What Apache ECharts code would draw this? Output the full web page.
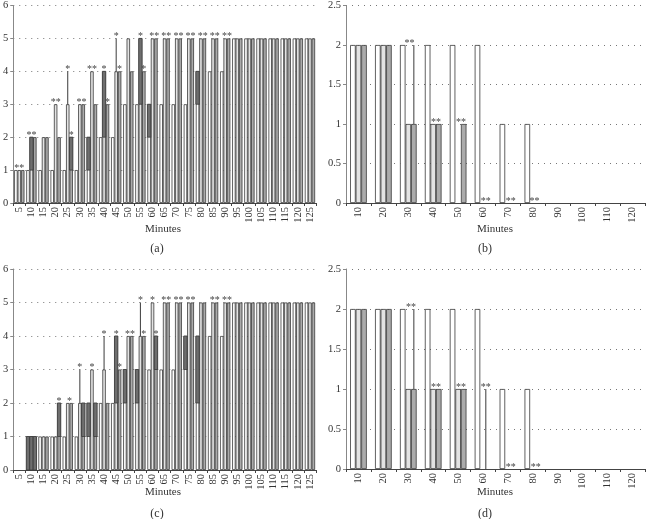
<!DOCTYPE html>
<html><head><meta charset="utf-8">
<script src="https://cdn.jsdelivr.net/npm/echarts@6/dist/echarts.min.js"></script>
<style>html,body{margin:0;padding:0;background:#fff}#c{width:646px;height:519px}</style>
</head><body><div id="c"></div>
<script>
// ---- categories ----
const catsAC = ['5','10','15','20','25','30','35','40','45','50','55','60','65','70','75','80','85','90','95','100','105','110','115','120','125'];
const catsBD = ['10','20','30','40','50','60','70','80','90','100','110','120'];
// ---- panel (a) ----
const aW = [1,1,1,1,1,1,2,2,2,3,3,3,3,3,3,4,4,4,5,5,5,5,5,5,5];
const aL = [1,2,2,3,3,3,4,4,4,5,5,5,5,5,5,5,5,5,5,5,5,5,5,5,5];
const aG = [1,2,2,2,2,3,3,3,4,4,4,5,5,5,5,5,5,5,5,5,5,5,5,5,5];
const aDark = [[1,1,1,2],[4,2,1,2],[6,0,1,2],[7,1,2,4],[10,1,3,5],[11,0,2,3],[15,0,3,4]];
const aWhisk = [[4,1,3,4],[8,1,4,5]];
const aStars = [[0,1,1,'**'],[1,1,2,'**'],[3,1,3,'**'],[4,1,4,'*'],[4,2,2,'*'],[5,1.5,3,'**'],[6,1,4,'**'],[7,1,4,'*'],[7,2,3,'*'],[8,1,5,'*'],[8,2,4,'*'],[10,1,5,'*'],[10,2,4,'*'],[11,1.5,5,'**'],[12,1.5,5,'**'],[13,1.5,5,'**'],[14,1.5,5,'**'],[15,1.5,5,'**'],[16,1.5,5,'**'],[17,1.5,5,'**']];
// ---- panel (b) ----
const bW = [2,2,2,2,2,2,1,1,0,0,0,0];
const bL = [2,2,1,1,0,0,0,0,0,0,0,0];
const bG = [2,2,1,1,1,0,0,0,0,0,0,0];
const bDark = [];
const bWhisk = [[2,2,1,2]];
const bStars = [[2,1.2,2,'**'],[3,1.5,1,'**'],[4,1.5,1,'**'],[5,1.5,0,'**'],[6,1.5,0,'**'],[7,1.3,0,'**']];
// ---- panel (c) ----
const cW = [0,1,1,1,1,1,2,2,2,3,3,3,3,3,4,4,4,4,5,5,5,5,5,5,5];
const cL = [0,1,1,1,2,2,3,3,4,4,4,5,5,5,5,5,5,5,5,5,5,5,5,5,5];
const cG = [0,1,1,2,2,2,2,2,3,4,4,4,5,5,5,5,5,5,5,5,5,5,5,5,5];
const cDark = [[1,0,0,1],[1,1,0,1],[1,2,0,1],[3,2,1,2],[5,2,1,2],[6,0,1,2],[6,2,1,2],[8,1,2,4],[9,0,2,3],[10,0,2,3],[11,2,3,4],[14,0,3,4],[15,0,2,4]];
const cWhisk = [[5,1,2,3],[7,1,3,4],[10,1,4,5]];
const cStars = [[3,2,2,'*'],[4,1.5,2,'*'],[5,1,3,'*'],[6,1,3,'*'],[7,1,4,'*'],[8,1,4,'*'],[8,2,3,'*'],[9,1.5,4,'**'],[10,1,5,'*'],[10,2,4,'*'],[11,1,5,'*'],[11,2,4,'*'],[12,1.5,5,'**'],[13,1.5,5,'**'],[14,1.5,5,'**'],[16,1.5,5,'**'],[17,1.5,5,'**']];
// ---- panel (d) ----
const dW = [2,2,2,2,2,2,1,1,0,0,0,0];
const dL = [2,2,1,1,1,0,0,0,0,0,0,0];
const dG = [2,2,1,1,1,0,0,0,0,0,0,0];
const dDark = [];
const dWhisk = [[2,2,1,2],[5,1.5,0,1]];
const dStars = [[2,1.5,2,'**'],[3,1.5,1,'**'],[4,1.5,1,'**'],[5,1.5,1,'**'],[6,1.5,0,'**'],[7,1.5,0,'**']];

const FONT = '"Liberation Serif", "DejaVu Serif", serif';
const chart = echarts.init(document.getElementById('c'), null, {renderer:'canvas'});

const panels = [
  {cats:catsAC, W:aW, L:aL, G:aG, dark:aDark, whisk:aWhisk, stars:aStars, max:6, interval:1, gap:0.15,
   grid:{left:11, top:5, width:305, height:198}},
  {cats:catsBD, W:bW, L:bL, G:bG, dark:bDark, whisk:bWhisk, stars:bStars, max:2.5, interval:0.5, gap:0.33,
   grid:{left:346, top:5, width:299, height:198}},
  {cats:catsAC, W:cW, L:cL, G:cG, dark:cDark, whisk:cWhisk, stars:cStars, max:6, interval:1, gap:0.15,
   grid:{left:11, top:269, width:305, height:201}},
  {cats:catsBD, W:dW, L:dL, G:dG, dark:dDark, whisk:dWhisk, stars:dStars, max:2.5, interval:0.5, gap:0.33,
   grid:{left:346, top:269, width:299, height:200}}
];

const grids=[], xAxes=[], yAxes=[], series=[];
const fills = ['#ffffff','#e3e3e3','#ababab'];
panels.forEach((p,i)=>{
  grids.push(Object.assign({containLabel:false}, p.grid));
  xAxes.push({type:'category', gridIndex:i, data:p.cats,
    axisLine:{lineStyle:{color:'#444', width:1}},
    axisTick:{show:true, length:3, lineStyle:{color:'#444'}},
    axisLabel:{rotate:90, interval:0, fontFamily:FONT, fontSize:10.5, color:'#333', margin:4}});
  yAxes.push({type:'value', gridIndex:i, min:0, max:p.max, interval:p.interval,
    axisLine:{show:true, lineStyle:{color:'#888'}},
    axisTick:{show:true, length:3, lineStyle:{color:'#888'}},
    axisLabel:{fontFamily:FONT, fontSize:10.5, color:'#333', margin:5},
    splitLine:{show:true, lineStyle:{type:[1,5], color:'#777', width:1}}});
  [p.W,p.L,p.G].forEach((arr,k)=>{
    series.push({type:'bar', xAxisIndex:i, yAxisIndex:i, data:arr.map(v=>v===0?'-':v), barGap:'0%',
      barCategoryGap:(p.gap*100)+'%', silent:true, animation:false,
      itemStyle:{color:fills[k], borderColor:'#3a3a3a', borderWidth:0.8}});
  });
  const gap = p.gap;
  function geom(api, s){
    const c = api.value(0);
    const band = api.size([1,0])[0];
    const bw = band*(1-gap)/3;
    const cx = api.coord([c,0])[0];
    return {bw, x: cx + (s-1.5)*bw};
  }
  // dark segments
  series.push({type:'custom', xAxisIndex:i, yAxisIndex:i, data:p.dark, animation:false, silent:true, z:3,
    encode:{x:0, y:[2,3]},
    renderItem:(params, api)=>{
      const g = geom(api, api.value(1));
      const y0 = api.coord([api.value(0), api.value(2)])[1];
      const y1 = api.coord([api.value(0), api.value(3)])[1];
      return {type:'rect', shape:{x:g.x, y:y1, width:g.bw, height:y0-y1},
        style:{fill:'#6e6e6e', stroke:'#3a3a3a', lineWidth:0.8}};
    }});
  // whiskers
  series.push({type:'custom', xAxisIndex:i, yAxisIndex:i, data:p.whisk, animation:false, silent:true, z:4,
    encode:{x:0, y:[2,3]},
    renderItem:(params, api)=>{
      const g = geom(api, api.value(1));
      const xm = g.x + g.bw/2;
      const y0 = api.coord([api.value(0), api.value(2)])[1];
      const y1 = api.coord([api.value(0), api.value(3)])[1];
      return {type:'line', shape:{x1:xm, y1:y0, x2:xm, y2:y1}, style:{stroke:'#3a3a3a', lineWidth:1}};
    }});
  // stars
  const st = p.stars;
  series.push({type:'custom', xAxisIndex:i, yAxisIndex:i, data:st.map(d=>[d[0],d[1],d[2]]), animation:false, silent:true, z:5,
    encode:{x:0, y:2},
    renderItem:(params, api)=>{
      const g = geom(api, api.value(1));
      const xm = g.x + g.bw/2;
      const y = api.coord([api.value(0), api.value(2)])[1];
      return {type:'text', style:{text:st[params.dataIndex][3], x:xm, y:y+3, align:'center', verticalAlign:'bottom',
        fontFamily:FONT, fontSize:10, fill:'#444'}};
    }});
});

const texts = [
  ['Minutes',163,229],['(a)',157,249],
  ['Minutes',495,229],['(b)',485,249],
  ['Minutes',163,492],['(c)',157,514],
  ['Minutes',495,492],['(d)',485,514]
];
const graphic = texts.map(t=>({type:'text', x:t[1], y:t[2], style:{text:t[0], fontFamily:FONT,
  fontSize:t[0]==='Minutes'?11:12, fill:'#333', align:'center', verticalAlign:'middle'}}));

chart.setOption({animation:false, backgroundColor:'#fff', grid:grids, xAxis:xAxes, yAxis:yAxes, series, graphic});
</script></body></html>
